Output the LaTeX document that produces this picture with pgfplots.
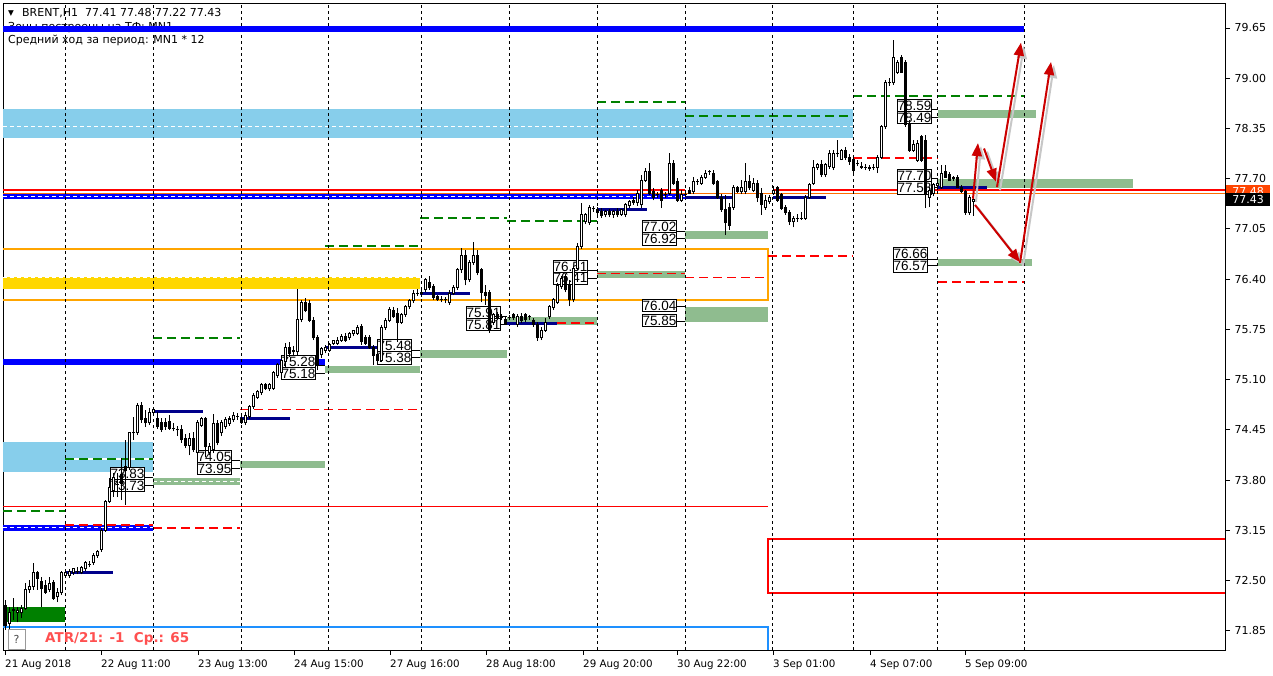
\documentclass[border=0pt]{standalone}
\usepackage{fontspec}
\setmainfont{DejaVu Sans}
\newfontfamily\lbfont{Liberation Sans}
\usepackage{pgfplots}
\usepackage{pgfplotstable}
\pgfplotsset{compat=1.18}
\usetikzlibrary{arrows.meta}
\definecolor{mtblue}{RGB}{0,0,255}
\definecolor{skyb}{RGB}{135,206,235}
\definecolor{goldz}{RGB}{255,215,0}
\definecolor{orz}{RGB}{255,165,0}
\definecolor{navyz}{RGB}{0,0,139}
\definecolor{greenz}{RGB}{143,188,143}
\definecolor{dgreen}{RGB}{0,128,0}
\definecolor{redz}{RGB}{255,0,0}
\definecolor{dodger}{RGB}{30,144,255}
\definecolor{arrowred}{RGB}{204,0,0}
\definecolor{atrred}{RGB}{255,80,80}
\definecolor{orline}{RGB}{255,110,0}
\definecolor{pricebox}{RGB}{255,69,0}
\tikzset{
 gdash/.style={draw=dgreen, line width=1.5pt, dash pattern=on 9pt off 5pt},
 rdash/.style={draw=redz, line width=1.5pt, dash pattern=on 9pt off 5pt},
 wdash/.style={draw=white, line width=1pt, dash pattern=on 4pt off 3pt},
 lbox/.style={draw=black, line width=1pt, fill=white, inner sep=0pt, anchor=west,
   minimum width=34pt, minimum height=12.5pt, font=\lbfont\fontsize{13.5}{14}\selectfont},
 arr/.style={arrowred, line width=2pt, -{Triangle[length=13pt,width=10pt]}},
 arrsh/.style={black!22, line width=2pt, -{Triangle[length=13pt,width=10pt]}}
}
\newcommand{\zone}[5]{\addplot[#5, draw=none, forget plot] coordinates {(#1,#3) (#2,#3) (#2,#4) (#1,#4)} --cycle;}
\newcommand{\hl}[4]{\addplot[#4, forget plot] coordinates {(#1,#3) (#2,#3)};}
\newcommand{\lbl}[7]{%
  \addplot[black, line width=1pt, forget plot] coordinates {(#2,#4) (#3,#4)};
  \addplot[black, line width=1pt, forget plot] coordinates {(#2,#6) (#3,#6)};
  \node[lbox] at (axis cs:#1,#5) {#4};
  \node[lbox] at (axis cs:#1,#7) {#6};
}
\pgfplotstableread{
x o h l c
5 72.18 72.25 71.86 71.92
9 71.95 72.16 71.83 72.08
13 72.12 72.27 71.99 72.11
17 72.09 72.16 71.96 72.11
21 72.08 72.18 72.01 72.14
25 72.14 72.47 72.12 72.38
29 72.38 72.51 72.34 72.42
33 72.42 72.73 72.38 72.61
37 72.60 72.62 72.38 72.53
41 72.49 72.55 72.16 72.40
45 72.44 72.51 72.33 72.35
49 72.39 72.55 72.35 72.46
53 72.47 72.51 72.25 72.27
57 72.29 72.40 72.22 72.34
61 72.34 72.62 72.31 72.60
65 72.57 72.62 72.53 72.60
69 72.57 72.65 72.53 72.62
73 72.60 72.66 72.57 72.65
77 72.62 72.67 72.58 72.62
81 72.61 72.69 72.58 72.67
85 72.65 72.75 72.62 72.73
89 72.71 72.75 72.67 72.71
93 72.73 72.86 72.70 72.83
97 72.82 72.90 72.79 72.87
101 72.90 73.18 72.87 73.15
105 73.15 73.54 73.13 73.52
109 73.52 73.83 73.50 73.71
113 73.67 73.89 73.58 73.83
117 73.74 73.89 73.58 73.74
121 73.87 74.09 73.54 73.76
125 73.97 74.32 73.48 73.93
129 73.96 74.41 73.93 74.41
133 74.41 74.62 74.32 74.41
137 74.41 74.80 74.38 74.77
141 74.77 74.81 74.54 74.58
145 74.59 74.71 74.49 74.54
149 74.54 74.73 74.51 74.68
153 74.68 74.75 74.64 74.71
157 74.59 74.68 74.46 74.49
161 74.55 74.60 74.42 74.46
165 74.55 74.60 74.45 74.49
169 74.56 74.64 74.45 74.47
173 74.47 74.54 74.43 74.47
177 74.45 74.50 74.37 74.45
181 74.46 74.51 74.28 74.32
185 74.34 74.40 74.21 74.25
189 74.25 74.41 74.12 74.34
193 74.34 74.42 74.16 74.19
197 74.16 74.58 74.12 74.54
201 74.51 74.62 74.49 74.60
205 74.60 74.62 74.10 74.23
209 74.16 74.28 74.12 74.24
213 74.19 74.66 74.15 74.53
217 74.53 74.58 74.25 74.29
221 74.41 74.58 74.37 74.54
225 74.49 74.62 74.46 74.58
229 74.53 74.63 74.50 74.59
233 74.58 74.68 74.55 74.64
237 74.62 74.67 74.58 74.62
241 74.60 74.66 74.53 74.55
245 74.54 74.68 74.51 74.64
249 74.62 74.77 74.59 74.75
253 74.75 74.93 74.72 74.90
257 74.87 74.97 74.85 74.94
261 74.93 75.06 74.90 75.03
265 75.03 75.06 74.97 74.99
269 74.98 75.06 74.95 75.03
273 74.99 75.21 74.97 75.19
277 75.15 75.32 75.12 75.29
281 75.19 75.38 75.16 75.35
285 75.33 75.57 75.26 75.52
289 75.51 75.59 75.39 75.44
293 75.48 75.53 75.40 75.46
297 75.46 76.27 75.42 75.88
301 75.88 76.13 75.84 76.10
305 76.10 76.16 75.97 76.00
309 76.09 76.13 75.84 75.87
313 75.87 75.91 75.61 75.64
317 75.64 75.68 75.22 75.29
321 75.42 75.52 75.38 75.50
325 75.48 75.55 75.44 75.51
329 75.48 75.57 75.46 75.55
333 75.57 75.61 75.55 75.60
337 75.57 75.65 75.55 75.61
341 75.61 75.69 75.59 75.66
345 75.66 75.70 75.59 75.61
349 75.64 75.72 75.61 75.69
353 75.69 75.74 75.66 75.73
357 75.70 75.81 75.68 75.78
361 75.79 75.82 75.55 75.59
365 75.64 75.68 75.55 75.57
369 75.64 75.68 75.50 75.52
373 75.52 75.55 75.29 75.41
377 75.42 75.46 75.33 75.35
381 75.35 75.81 75.33 75.78
385 75.78 75.90 75.74 75.87
389 75.87 76.04 75.84 76.01
393 76.00 76.04 75.90 75.91
397 75.96 76.03 75.59 75.84
401 75.84 75.96 75.82 75.94
405 75.94 76.07 75.91 76.04
409 76.04 76.14 76.01 76.12
413 76.12 76.26 76.09 76.22
417 76.22 76.27 76.18 76.22
421 76.22 76.29 76.17 76.23
425 76.26 76.41 76.23 76.39
429 76.36 76.44 76.26 76.29
433 76.30 76.34 76.13 76.16
437 76.17 76.19 76.12 76.14
441 76.14 76.18 76.10 76.14
445 76.13 76.17 76.09 76.13
449 76.10 76.26 76.07 76.22
453 76.22 76.32 76.19 76.29
457 76.29 76.54 76.26 76.52
461 76.52 76.80 76.48 76.71
465 76.71 76.78 76.32 76.39
469 76.39 76.65 76.36 76.61
473 76.61 76.88 76.58 76.71
477 76.71 76.78 76.45 76.49
481 76.52 76.54 76.10 76.23
485 76.23 76.32 76.07 76.19
489 76.23 76.26 75.70 75.74
493 75.84 75.96 75.81 75.94
497 75.94 75.97 75.87 75.90
501 75.92 75.95 75.87 75.90
505 75.88 75.92 75.81 75.83
509 75.90 75.94 75.87 75.90
513 75.94 75.96 75.87 75.90
517 75.81 75.95 75.78 75.91
521 75.92 75.96 75.83 75.86
525 75.94 75.96 75.84 75.88
529 75.91 75.94 75.87 75.91
533 75.87 75.90 75.78 75.81
537 75.81 75.84 75.60 75.64
541 75.64 75.78 75.61 75.74
545 75.74 75.90 75.72 75.84
549 75.91 76.07 75.88 76.04
553 76.03 76.16 76.00 76.13
557 76.10 76.35 76.08 76.32
561 76.30 76.44 76.27 76.41
565 76.43 76.47 76.23 76.26
569 76.32 76.39 76.05 76.13
573 76.13 76.57 76.10 76.54
577 76.54 76.87 76.52 76.82
581 76.82 77.39 76.79 77.23
585 77.14 77.26 77.11 77.23
589 77.13 77.36 77.10 77.33
593 77.31 77.35 77.27 77.31
597 77.30 77.33 77.23 77.26
601 77.27 77.32 77.19 77.22
605 77.23 77.30 77.20 77.27
609 77.27 77.31 77.20 77.23
613 77.23 77.30 77.19 77.28
617 77.28 77.32 77.20 77.23
621 77.24 77.31 77.22 77.30
625 77.23 77.39 77.20 77.36
629 77.35 77.42 77.32 77.40
633 77.42 77.46 77.36 77.39
637 77.39 77.55 77.35 77.51
641 77.36 77.75 77.32 77.68
645 77.68 77.84 77.66 77.79
649 77.79 77.90 77.49 77.51
653 77.53 77.58 77.42 77.45
657 77.49 77.53 77.45 77.49
661 77.55 77.58 77.32 77.42
665 77.49 77.53 77.45 77.49
669 77.51 78.03 77.49 77.90
673 77.90 77.94 77.62 77.64
677 77.66 77.71 77.40 77.42
681 77.42 77.55 77.40 77.49
685 77.50 77.55 77.46 77.50
689 77.55 77.59 77.51 77.51
693 77.53 77.72 77.50 77.66
697 77.66 77.70 77.62 77.66
701 77.64 77.75 77.62 77.72
705 77.72 77.81 77.70 77.77
709 77.79 77.81 77.75 77.79
713 77.77 77.81 77.62 77.64
717 77.66 77.68 77.44 77.46
721 77.46 77.50 77.27 77.30
725 77.30 77.49 76.97 77.13
729 77.33 77.39 77.04 77.10
733 77.33 77.62 77.30 77.58
737 77.58 77.61 77.51 77.54
741 77.53 77.68 77.50 77.59
745 77.53 77.90 77.50 77.66
749 77.66 77.75 77.55 77.58
753 77.55 77.71 77.53 77.64
757 77.64 77.68 77.40 77.45
761 77.51 77.58 77.23 77.36
765 77.33 77.49 77.30 77.42
769 77.40 77.49 77.37 77.46
773 77.51 77.61 77.49 77.55
777 77.58 77.61 77.40 77.42
781 77.49 77.51 77.30 77.32
785 77.33 77.36 77.23 77.26
789 77.26 77.30 77.10 77.14
793 77.14 77.22 77.07 77.19
797 77.18 77.24 77.14 77.18
801 77.19 77.27 77.17 77.19
805 77.19 77.49 77.17 77.46
809 77.46 77.64 77.44 77.62
813 77.64 77.94 77.62 77.84
817 77.84 77.90 77.81 77.88
821 77.88 77.94 77.72 77.75
825 77.75 77.90 77.72 77.88
829 77.86 78.07 77.83 78.03
833 77.84 78.07 77.81 78.02
837 78.02 78.20 77.98 78.03
841 77.95 78.08 77.94 78.07
845 78.07 78.11 77.94 77.98
849 77.98 78.02 77.88 77.92
853 77.95 78.00 77.77 77.81
857 77.90 77.94 77.86 77.90
861 77.86 77.92 77.83 77.85
865 77.85 77.89 77.81 77.85
869 77.85 77.88 77.80 77.83
873 77.85 77.89 77.81 77.85
877 77.84 78.00 77.77 77.98
881 77.98 78.40 77.95 78.37
885 78.37 78.98 78.34 78.95
889 78.94 79.00 78.90 78.95
893 78.94 79.49 78.91 79.27
897 79.08 79.24 79.06 79.20
901 79.27 79.30 79.07 79.08
905 79.20 79.24 78.37 78.40
909 78.40 78.46 78.05 78.07
913 78.07 78.20 78.05 78.14
917 77.94 78.20 77.92 78.16
921 78.24 78.27 77.92 77.94
925 78.20 78.27 77.32 77.51
929 77.46 77.59 77.33 77.55
933 77.51 77.64 77.47 77.62
937 77.61 77.66 77.55 77.64
941 77.59 77.88 77.57 77.77
945 77.79 77.88 77.71 77.72
949 77.75 77.79 77.67 77.68
953 77.71 77.74 77.67 77.70
957 77.72 77.75 77.58 77.59
961 77.59 77.62 77.51 77.53
965 77.53 77.55 77.23 77.26
969 77.26 77.49 77.23 77.45
973 77.41 77.48 77.22 77.43
}\candles
\begin{document}
\begin{tikzpicture}
\fill[white] (-3pt,-26pt) rectangle (1270pt,650pt);
\begin{axis}[
  at={(0,0)}, anchor=south west,
  scale only axis, width=1222pt, height=647pt,
  xmin=3, xmax=1225, ymin=71.601, ymax=79.973,
  clip=false,
  axis line style={black, line width=0.8pt},
  xtick={5,101,198,294,390,486,583,677,773,870,965},
  xticklabels={21 Aug 2018,22 Aug 11:00,23 Aug 13:00,24 Aug 15:00,27 Aug 16:00,28 Aug 18:00,29 Aug 20:00,30 Aug 22:00,3 Sep 01:00,4 Sep 07:00,5 Sep 09:00},
  xtick pos=bottom, ytick pos=right, yticklabel pos=right,
  tick align=outside, major tick length=5pt,
  tick style={black, line width=0.8pt},
  ytick={71.85,72.50,73.15,73.80,74.45,75.10,75.75,76.40,77.05,77.70,78.35,79.00,79.65},
  scaled y ticks=false,
  /pgf/number format/assume math mode=true,
  yticklabel style={/pgf/number format/fixed, /pgf/number format/fixed zerofill, /pgf/number format/precision=2, xshift=1pt, font=\fontsize{11}{13}\selectfont},
  xticklabel style={font=\fontsize{10.3}{12}\selectfont},
  ticklabel style={text=black},
  x tick label style={anchor=north west, inner xsep=0pt, yshift=-1pt},
]
% ---- zones ----
\zone{3}{853}{78.60}{78.23}{fill=skyb}
\zone{3}{153}{74.29}{73.90}{fill=skyb}
\zone{3}{420}{76.43}{76.27}{fill=goldz}
\zone{5}{65}{72.16}{71.96}{fill=dgreen}
\zone{153}{240}{73.83}{73.73}{fill=greenz}
\zone{240}{325}{74.05}{73.95}{fill=greenz}
\zone{325}{420}{75.28}{75.18}{fill=greenz}
\zone{420}{507}{75.48}{75.38}{fill=greenz}
\zone{507}{597}{75.91}{75.81}{fill=greenz}
\zone{597}{685}{76.51}{76.41}{fill=greenz}
\zone{685}{768}{77.02}{76.92}{fill=greenz}
\zone{685}{768}{76.04}{75.85}{fill=greenz}
\zone{938}{1036}{78.59}{78.49}{fill=greenz}
\zone{938}{1133}{77.70}{77.58}{fill=greenz}
\zone{938}{1032}{76.66}{76.57}{fill=greenz}
% ---- white dashes in zones ----
\hl{3}{853}{78.37}{wdash}
\hl{3}{420}{76.42}{wdash}
\hl{153}{240}{73.78}{wdash}
\hl{65}{153}{74.07}{draw=white, line width=1.5pt}
% ---- lines ----
\hl{3}{325}{75.33}{draw=mtblue, line width=6pt}
\hl{3}{153}{73.18}{draw=mtblue, line width=6pt}
\hl{3}{153}{73.18}{wdash}
\hl{3}{685}{77.47}{draw=mtblue, line width=5pt}
\hl{3}{685}{77.47}{wdash}
\hl{3}{1225}{77.51}{draw=orline, line width=1pt}
\hl{3}{685}{77.55}{draw=redz, line width=2pt}
\hl{773}{1225}{77.55}{draw=redz, line width=2pt}
\hl{3}{768}{73.46}{draw=redz, line width=1.5pt}
\addplot[draw=orz, line width=2pt, forget plot] coordinates {(3,76.79) (768,76.79) (768,76.13) (3,76.13)};
\addplot[draw=redz, line width=1.5pt, forget plot] coordinates {(1225,73.04) (768,73.04) (768,72.34) (1225,72.34)};
\addplot[draw=dodger, line width=1.5pt, forget plot] coordinates {(3,71.90) (768,71.90) (768,71.601)};
% green dashed
\hl{597}{685}{78.69}{gdash}
\hl{685}{853}{78.51}{gdash}
\hl{853}{1024}{78.77}{gdash}
\hl{325}{420}{76.83}{gdash}
\hl{420}{507}{77.19}{gdash}
\hl{507}{597}{77.15}{gdash}
\hl{153}{240}{75.64}{gdash}
\hl{3}{65}{73.40}{gdash}
\hl{65}{153}{74.07}{gdash}
% red dashed
\hl{65}{153}{73.22}{rdash}
\hl{153}{240}{73.18}{rdash}
\hl{240}{420}{74.71}{rdash}
\hl{557}{597}{75.83}{rdash}
\hl{597}{685}{76.47}{rdash}
\hl{685}{768}{76.42}{rdash}
\hl{768}{853}{76.70}{rdash}
\hl{853}{938}{77.97}{rdash}
\hl{938}{1024}{76.36}{rdash}
% day separators
\pgfplotsinvokeforeach{65,153,241,328,421,509,597,685,772,853,937,1024}{
  \addplot[draw=black, line width=1pt, dash pattern=on 3pt off 3pt, forget plot] coordinates {(#1,71.601) (#1,79.973)};
}
% navy levels
\hl{65}{113}{72.60}{draw=navyz, line width=3pt}
\hl{153}{203}{74.69}{draw=navyz, line width=3pt}
\hl{240}{290}{74.60}{draw=navyz, line width=3pt}
\hl{325}{378}{75.51}{draw=navyz, line width=3pt}
\hl{420}{470}{76.22}{draw=navyz, line width=3pt}
\hl{507}{557}{75.83}{draw=navyz, line width=3pt}
\hl{597}{647}{77.30}{draw=navyz, line width=3pt}
\hl{685}{732}{77.46}{draw=navyz, line width=3pt}
\hl{773}{826}{77.45}{draw=navyz, line width=3pt}
\hl{938}{987}{77.58}{draw=navyz, line width=3pt}
% level labels
\lbl{110}{144}{153}{73.83}{73.885}{73.73}{73.73}
\lbl{197}{231}{240}{74.05}{74.105}{73.95}{73.95}
\lbl{281}{315}{325}{75.28}{75.335}{75.18}{75.18}
\lbl{377}{411}{420}{75.48}{75.535}{75.38}{75.38}
\lbl{466}{500}{507}{75.91}{75.965}{75.81}{75.81}
\lbl{553}{587}{597}{76.51}{76.565}{76.41}{76.41}
\lbl{642}{676}{685}{77.02}{77.075}{76.92}{76.92}
\lbl{642}{676}{685}{76.04}{76.06}{75.85}{75.865}
\lbl{897}{931}{938}{78.59}{78.645}{78.49}{78.49}
\lbl{897}{931}{938}{77.70}{77.735}{77.58}{77.58}
\lbl{893}{927}{938}{76.66}{76.725}{76.57}{76.57}
% header text
\node[anchor=west, inner sep=0pt, font=\fontsize{7.5}{8}\selectfont] at (axis cs:8,79.84) {▼};
\node[anchor=west, inner sep=0pt, font=\fontsize{11}{13}\selectfont] at (axis cs:22,79.84) {BRENT,H1\ \ 77.41 77.48 77.22 77.43};
\node[anchor=west, inner sep=0pt, font=\fontsize{11}{13}\selectfont] at (axis cs:8,79.66) {Зоны построены на ТФ: MN1};
\node[anchor=west, inner sep=0pt, font=\fontsize{11}{13}\selectfont] at (axis cs:8,79.49) {Средний ход за период: MN1 * 12};
\hl{3}{1024}{79.64}{draw=mtblue, line width=6pt}
% ---- candles ----
\addplot[draw=none, mark=none, forget plot, error bars/.cd, y dir=plus, y explicit, error mark=none,
  error bar style={draw=black, solid, line width=1pt}]
  table[x=x, y=l, y error plus expr=\thisrow{h}-\thisrow{l}] {\candles};
\addplot[draw=none, mark=none, forget plot, error bars/.cd, y dir=plus, y explicit, error mark=none,
  error bar style={draw=black, solid, line width=3pt}]
  table[x=x, y expr={min(\thisrow{o},\thisrow{c})-0.0065}, y error plus expr={abs(\thisrow{c}-\thisrow{o})+0.013}] {\candles};
\addplot[draw=none, mark=none, forget plot, error bars/.cd, y dir=plus, y explicit, error mark=none,
  error bar style={draw=white, solid, line width=1pt}]
  table[x=x, y expr={\thisrow{o}+0.0065}, y error plus expr={max(\thisrow{c}-\thisrow{o}-0.013,0)}] {\candles};
% ---- arrows ----
\addplot[arrsh, forget plot] coordinates {(976,77.40) (981,78.12)};
\addplot[arrsh, forget plot] coordinates {(987,78.05) (999,77.62)};
\addplot[arrsh, forget plot] coordinates {(1000,77.55) (1024,79.42)};
\addplot[arrsh, forget plot] coordinates {(978,77.32) (1023,76.58)};
\addplot[arrsh, forget plot] coordinates {(1023,76.57) (1054,79.17)};
\addplot[arr, forget plot] coordinates {(973,77.44) (978,78.16)};
\addplot[arr, forget plot] coordinates {(984,78.09) (996,77.66)};
\addplot[arr, forget plot] coordinates {(997,77.59) (1021,79.46)};
\addplot[arr, forget plot] coordinates {(975,77.36) (1020,76.62)};
\addplot[arr, forget plot] coordinates {(1020,76.61) (1051,79.21)};
% ---- bottom texts ----
\node[draw=black!40, fill=white, minimum width=17pt, minimum height=20pt, inner sep=0pt, font=\fontsize{11}{12}\selectfont, text=black!70] at (axis cs:16.5,71.74) {?};
\node[anchor=west, inner sep=0pt, text=atrred, font=\bfseries\fontsize{13.5}{15}\selectfont] at (axis cs:45,71.74) {ATR/21: -1\ \ Ср.: 65};
% ---- price boxes ----
\node[fill=pricebox, text=white, anchor=west, minimum width=44pt, minimum height=13pt, inner sep=0pt, xshift=1pt, font=\fontsize{11}{13}\selectfont] at (axis cs:1225,77.54) {77.48};
\node[fill=black, text=white, anchor=west, minimum width=44pt, minimum height=13pt, inner sep=0pt, xshift=1pt, font=\fontsize{11}{13}\selectfont] at (axis cs:1225,77.43) {77.43};
\end{axis}
\end{tikzpicture}
\end{document}
